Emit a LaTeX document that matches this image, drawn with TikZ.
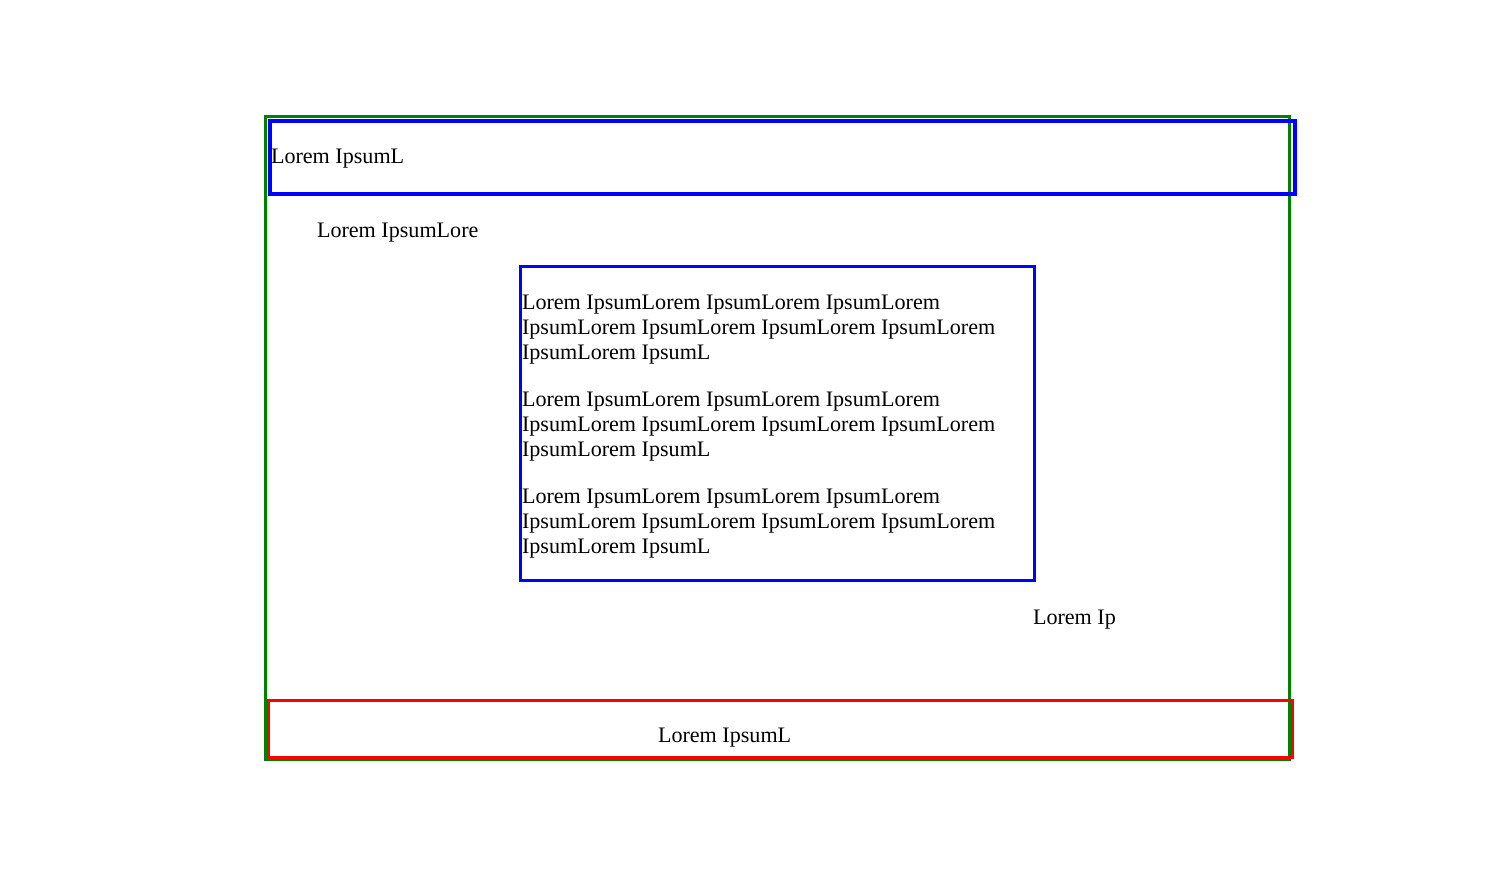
\documentclass[tikz,border=0pt]{standalone}
\usepackage{fontspec}
\setmainfont{Liberation Serif}
\definecolor{bgreen}{RGB}{0,128,0}
\definecolor{bblue}{RGB}{0,0,255}
\definecolor{bred}{RGB}{255,0,0}
\tikzset{
  lbl/.style={inner sep=0pt, outer sep=0pt, anchor=base west, font=\fontsize{22.1}{25}\selectfont},
  para/.style={inner sep=0pt, outer sep=0pt, anchor=north west, align=left, font=\fontsize{22.1}{25}\selectfont},
  box/.style={draw, fill=none},
}
\begin{document}
\begin{tikzpicture}[x=1pt,y=-1pt]
\useasboundingbox (0,0) rectangle (1512,880);
% outer green frame
\draw[box, bgreen, line width=3pt] (265.3,117) rectangle (1289.7,759.5);
% header
\draw[box, bblue, line width=4pt] (269.5,121) rectangle (1294.5,194);
\node[lbl] (head) at (271,164) {Lorem IpsumL};
% sub label
\node[lbl] (sub) at (317,237) {Lorem IpsumLore};
% inner text box
\draw[box, bblue, line width=2.5pt] (520.5,266.3) rectangle (1034.5,580.5);
\node[para] (pa) at (522,291.5) {\strut Lorem IpsumLorem IpsumLorem IpsumLorem\\IpsumLorem IpsumLorem IpsumLorem IpsumLorem\\IpsumLorem IpsumL};
\node[para] (pb) at (522,388.5) {\strut Lorem IpsumLorem IpsumLorem IpsumLorem\\IpsumLorem IpsumLorem IpsumLorem IpsumLorem\\IpsumLorem IpsumL};
\node[para] (pc) at (522,485.5) {\strut Lorem IpsumLorem IpsumLorem IpsumLorem\\IpsumLorem IpsumLorem IpsumLorem IpsumLorem\\IpsumLorem IpsumL};
% side label
\node[lbl] (side) at (1033,624) {Lorem Ip};
% footer
\draw[box, bred, line width=3pt] (268.7,700.3) rectangle (1292.2,757.3);
\node[lbl] (foot) at (658,742.5) {Lorem IpsumL};
\end{tikzpicture}
\end{document}
